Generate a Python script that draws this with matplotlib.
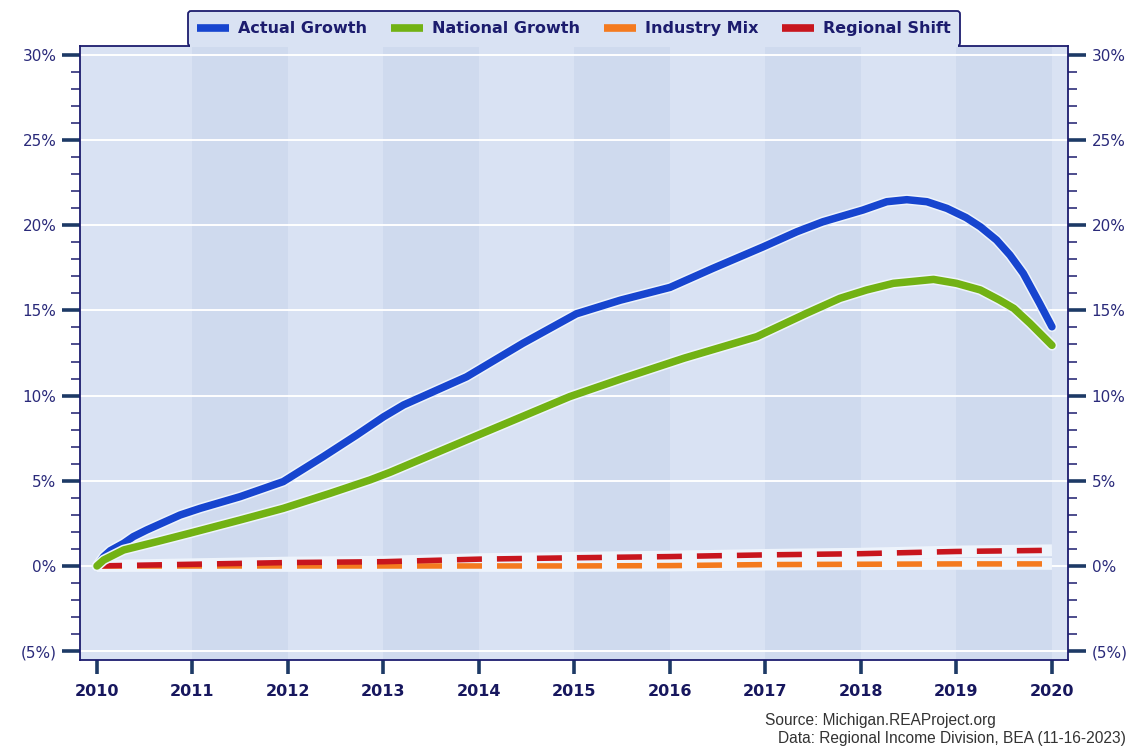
import matplotlib
matplotlib.use("Agg")
import matplotlib.pyplot as plt
import matplotlib.patheffects as pe
from matplotlib.patches import Rectangle
from matplotlib.ticker import MultipleLocator, FixedLocator

# values (percent growth since 2010)
actual_x = [2010.0, 2010.07, 2010.14, 2010.28, 2010.38, 2010.52, 2010.87, 2011.08, 2011.5,
            2011.95, 2012.37, 2012.72, 2013.0, 2013.21, 2013.87, 2014.46, 2015.02, 2015.48,
            2016.0, 2016.45, 2016.98, 2017.33, 2017.6, 2018.02, 2018.27, 2018.48, 2018.69,
            2018.9, 2019.1, 2019.25, 2019.42, 2019.56, 2019.7, 2019.87, 2020.0]
actual_y = [0.0, 0.55, 0.9, 1.33, 1.72, 2.11, 2.99, 3.38, 4.07,
            4.95, 6.42, 7.69, 8.75, 9.45, 11.1, 13.07, 14.8, 15.6,
            16.35, 17.47, 18.74, 19.62, 20.2, 20.89, 21.38, 21.5, 21.38,
            20.99, 20.45, 19.91, 19.13, 18.25, 17.17, 15.42, 14.04]

national_x = [2010.0, 2010.07, 2010.28, 2010.63, 2010.97, 2011.5, 2011.95, 2012.44, 2012.86,
              2013.07, 2013.91, 2014.95, 2015.5, 2016.15, 2016.91, 2017.43, 2017.78, 2018.06,
              2018.34, 2018.76, 2019.0, 2019.25, 2019.45, 2019.6, 2019.77, 2020.0]
national_y = [0.0, 0.35, 0.94, 1.43, 1.92, 2.7, 3.38, 4.26, 5.05,
              5.5, 7.49, 9.94, 11.0, 12.2, 13.46, 14.83, 15.71, 16.2,
              16.59, 16.82, 16.59, 16.2, 15.61, 15.12, 14.24, 12.95]

years = [2010, 2011, 2012, 2013, 2014, 2015, 2016, 2017, 2018, 2019, 2020]
industry_mix = [0.0, 0.0, 0.0, 0.0, 0.0, 0.0, 0.02, 0.08, 0.1, 0.12, 0.12]
regional_shift = [0.0, 0.1, 0.2, 0.25, 0.4, 0.48, 0.55, 0.65, 0.72, 0.85, 0.92]

y_ticks = [-5, 0, 5, 10, 15, 20, 25, 30]
y_labels = ["(5%)", "0%", "5%", "10%", "15%", "20%", "25%", "30%"]

NAVY = "#1c1c6e"
TICK = "#1d3a66"
LIGHT = "#d9e2f3"
DARK = "#cfdaee"
HALO = "#eef4fc"

fig = plt.figure(figsize=(11.44, 7.49), dpi=100)
ax = fig.add_axes([80 / 1144, 89 / 749, 988 / 1144, 614 / 749])
ax.set_facecolor(LIGHT)
ax.set_xlim(2009.822, 2020.168)
ax.set_ylim(-5.52, 30.52)

# alternating year bands
for yr in years[1::2]:
    ax.axvspan(yr, yr + 1, color=DARK, lw=0, zorder=0)

for t in y_ticks:
    ax.axhline(t, color="white", lw=1.4, zorder=1)

# dashed component lines with light strips behind them
for vals in (industry_mix, regional_shift):
    ax.plot(years, vals, color=HALO, lw=8.5, solid_capstyle="butt", zorder=2)
ax.plot(years, industry_mix, color="#f47a1f", lw=4, dashes=(4.5, 2.7),
        dash_capstyle="butt", zorder=3, label="Industry Mix")
ax.plot(years, regional_shift, color="#c8161e", lw=4, dashes=(4.5, 2.7),
        dash_capstyle="butt", zorder=4, label="Regional Shift")

halo = [pe.Stroke(linewidth=7.6, foreground=HALO), pe.Normal()]
ax.plot(actual_x, actual_y, color="#1745cf", lw=5.4, solid_capstyle="round",
        solid_joinstyle="round", path_effects=halo, zorder=5, label="Actual Growth")
ax.plot(national_x, national_y, color="#72b214", lw=5.4, solid_capstyle="round",
        solid_joinstyle="round", path_effects=halo, zorder=6, label="National Growth")

# axes styling
for s in ax.spines.values():
    s.set_color(NAVY)
    s.set_linewidth(1.3)

ax.yaxis.set_major_locator(FixedLocator(y_ticks))
ax.yaxis.set_minor_locator(MultipleLocator(1))
ax.set_yticklabels(y_labels)
ax.tick_params(axis="y", which="major", left=True, right=True, labelleft=True, labelright=True,
               length=13, width=2.6, color=TICK, labelsize=11, labelcolor="#2a2a7a", pad=4)
ax.tick_params(axis="y", which="minor", left=True, right=True, length=6.5, width=1.1, color=NAVY)

ax.xaxis.set_major_locator(FixedLocator(years))
ax.set_xticklabels([str(y) for y in years])
ax.tick_params(axis="x", which="major", length=10, width=2.6, color=TICK, labelsize=11.5,
               labelcolor="#17175e", pad=7)
for lab in ax.get_xticklabels():
    lab.set_fontweight("bold")

# legend tab on top of the plot
handles, labels = ax.get_legend_handles_labels()
order = [2, 3, 0, 1]
leg = ax.legend([handles[i] for i in order], [labels[i] for i in order],
                loc="lower center", bbox_to_anchor=(0.5, 1.0), ncol=4, frameon=True,
                fancybox=True, borderaxespad=0, fontsize=11.5, handlelength=2.0,
                handletextpad=0.55, columnspacing=1.5, borderpad=0.62)
leg.get_frame().set_facecolor(LIGHT)
leg.get_frame().set_edgecolor(NAVY)
leg.get_frame().set_linewidth(1.3)
leg.get_frame().set_alpha(1)
for txt in leg.get_texts():
    txt.set_color(NAVY)
    txt.set_fontweight("bold")
for h in leg.get_lines():
    h.set_linestyle("-")
    h.set_linewidth(5.5)
    h.set_solid_capstyle("butt")
    h.set_path_effects([])

# open the bottom of the tab into the plot area
fig.canvas.draw()
bb = leg.get_window_extent().transformed(fig.transFigure.inverted())
fig.patches.append(Rectangle((bb.x0 + 0.002, bb.y0 - 0.002), bb.width - 0.004, 0.005,
                             transform=fig.transFigure, facecolor=LIGHT, edgecolor="none",
                             zorder=10))

fig.text(765 / 1144, 1 - 720 / 749, "Source: Michigan.REAProject.org", fontsize=11.2,
         family="Liberation Sans", color="#333333", va="center", ha="left")
fig.text(778 / 1144, 1 - 738 / 749, "Data: Regional Income Division, BEA (11-16-2023)",
         fontsize=11.2, family="Liberation Sans", color="#333333", va="center", ha="left")

fig.savefig("out.png", dpi=100)
